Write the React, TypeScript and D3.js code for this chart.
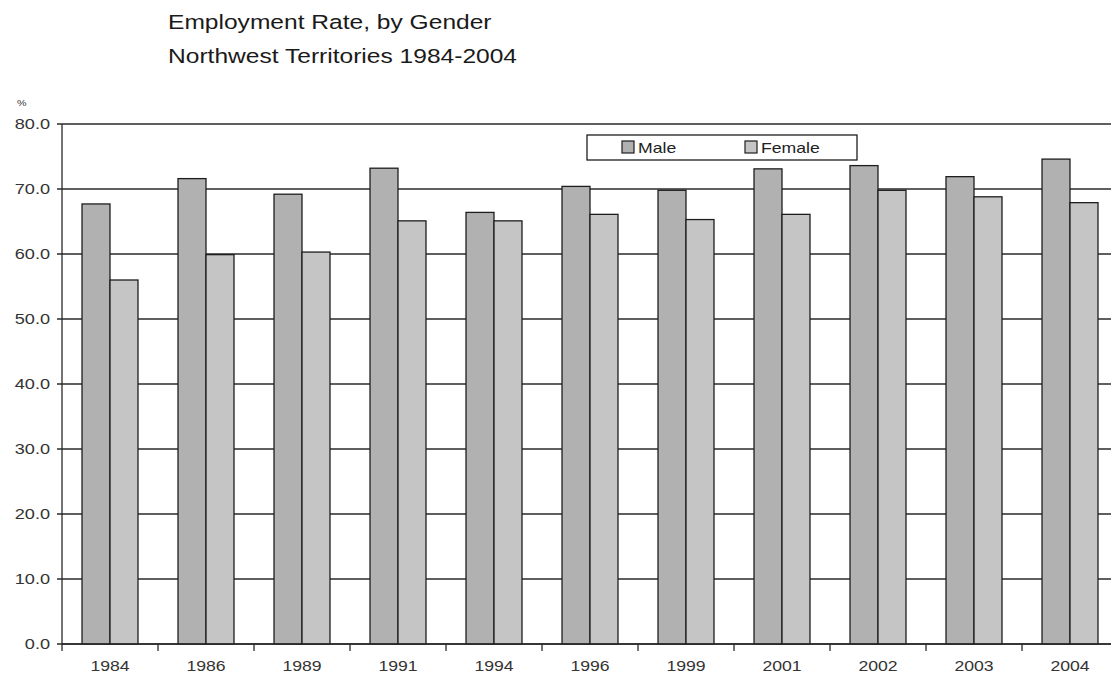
import React from "react";
import * as d3 from "d3";

// Employment rate (%) by gender, Northwest Territories
const years = ["1984", "1986", "1989", "1991", "1994", "1996", "1999", "2001", "2002", "2003", "2004"];
const male = [67.7, 71.6, 69.2, 73.2, 66.4, 70.4, 69.8, 73.1, 73.6, 71.9, 74.6];
const female = [56.0, 59.9, 60.3, 65.1, 65.1, 66.1, 65.3, 66.1, 69.8, 68.8, 67.9];
const seriesNames = ["Male", "Female"];
const seriesColors = ["#b1b1b1", "#c5c5c5"];
const yTicks = [0, 10, 20, 30, 40, 50, 60, 70, 80];
const titleLines = ["Employment Rate, by Gender", "Northwest Territories 1984-2004"];

const W = 1111;
const H = 674;
const SX = 1.26; // horizontal text stretch
const FONT = "'Liberation Sans', Arial, Helvetica, sans-serif";

function Txt({ x, y, size, anchor = "start", fill = "#2a2a2a", children }: any) {
  return (
    <text
      transform={`translate(${x},${y}) scale(${SX},1)`}
      fontSize={size}
      fontFamily={FONT}
      textAnchor={anchor}
      fill={fill}
    >
      {children}
    </text>
  );
}

export default function App() {
  const x = d3.scaleBand<string>().domain(years).range([62, 1118]).padding(0);
  const inner = d3
    .scaleBand<string>()
    .domain(seriesNames)
    .range([20, x.bandwidth() - 20])
    .padding(0);
  const y = d3.scaleLinear().domain([0, 80]).range([644, 124]);
  const data = [male, female];
  const stroke = "#1e1e1e";

  return (
    <svg width={W} height={H} style={{ position: "absolute", left: 0, top: 0, background: "#fff" }}>
      <rect width={W} height={H} fill="#fff" />
      {titleLines.map((t, i) => (
        <Txt key={t} x={168} y={29 + i * 34} size={19.5} fill="#1a1a1a">
          {t}
        </Txt>
      ))}

      {/* gridlines and y ticks */}
      {yTicks.map((v) => (
        <g key={v}>
          <line x1={57} x2={W} y1={y(v)} y2={y(v)} stroke="#2a2a2a" strokeWidth={1.3} />
          <Txt x={50} y={y(v) + 5} size={14.4} anchor="end" fill="#333">
            {d3.format(".1f")(v)}
          </Txt>
        </g>
      ))}
      <Txt x={17} y={106} size={8.5} fill="#333">%</Txt>

      {/* bars */}
      {years.map((yr, i) => (
        <g key={yr} transform={`translate(${x(yr)},0)`}>
          {seriesNames.map((s, k) => (
            <rect
              key={s}
              x={inner(s)}
              y={y(data[k][i])}
              width={inner.bandwidth()}
              height={y(0) - y(data[k][i])}
              fill={seriesColors[k]}
              stroke={stroke}
              strokeWidth={1.3}
            />
          ))}
        </g>
      ))}

      {/* axes */}
      <line x1={62} x2={62} y1={124} y2={651} stroke="#2a2a2a" strokeWidth={1.3} />
      <line x1={62} x2={W} y1={644} y2={644} stroke="#2a2a2a" strokeWidth={1.3} />
      {years.map((yr) => (
        <g key={yr}>
          <line
            x1={(x(yr) as number) + x.bandwidth()}
            x2={(x(yr) as number) + x.bandwidth()}
            y1={644}
            y2={651}
            stroke="#2a2a2a"
            strokeWidth={1.3}
          />
          <Txt x={(x(yr) as number) + x.bandwidth() / 2} y={671} size={14} anchor="middle" fill="#333">
            {yr}
          </Txt>
        </g>
      ))}

      {/* legend */}
      <rect x={587} y={135} width={270} height={25} fill="#fff" stroke={stroke} strokeWidth={1.3} />
      {seriesNames.map((s, k) => (
        <g key={s}>
          <rect x={622 + k * 123} y={141} width={12} height={12} fill={seriesColors[k]} stroke={stroke} strokeWidth={1.2} />
          <Txt x={638 + k * 123} y={152.5} size={14} fill="#222">
            {s}
          </Txt>
        </g>
      ))}
    </svg>
  );
}
